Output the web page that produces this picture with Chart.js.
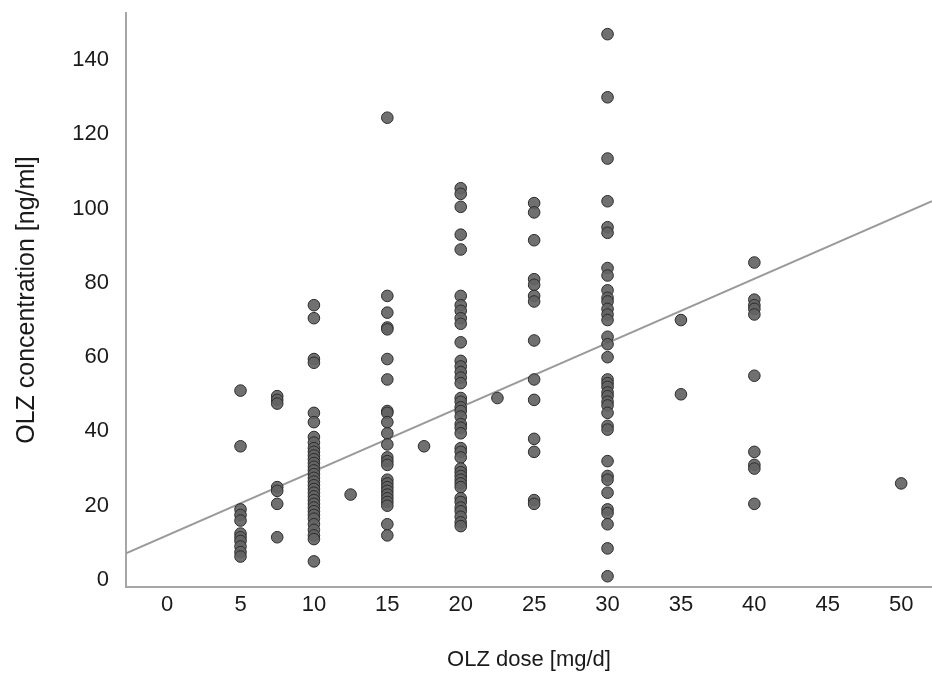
<!DOCTYPE html>
<html lang="en">
<head>
    <meta charset="UTF-8">
    <title>OLZ dose vs concentration</title>
    <script src="https://cdn.jsdelivr.net/npm/chart.js"></script>
    <style>
        html, body { margin: 0; padding: 0; background: #fff; overflow: hidden; }
    </style>
</head>
<body>
    <canvas id="olzChart" width="932" height="680"></canvas>

    <script>
        // OLZ dose levels [mg/d] and measured concentrations [ng/ml] at each dose
        const doseLevels = [5, 7.5, 10, 12.5, 15, 17.5, 20, 22.5, 25, 30, 35, 40, 50];

        const concAt5 = [51, 36, 19, 17.5, 16, 12.5, 11.5, 10.5, 9, 7.5, 6.3];
        const concAt7_5 = [49.5, 48.5, 47.5, 25, 24, 20.5, 11.5];
        const concAt10 = [74, 70.5, 59.5, 58.5, 45, 42.5, 38.5, 37, 35.5, 34.5, 33.5, 32.5, 31.5, 30.5,
            29.5, 28.5, 27.5, 26.5, 25.5, 24.5, 23.5, 22.5, 21.5, 20.5, 19.5, 18.5, 17.5, 16.5, 15, 13.5,
            12, 11, 5];
        const concAt12_5 = [23];
        const concAt15 = [124.5, 76.5, 72, 68, 67.5, 59.5, 54, 45.5, 45, 42.5, 39.5, 36.5, 33, 32, 31,
            27, 26, 25, 24, 23, 22, 21, 20, 15, 12];
        const concAt17_5 = [36];
        const concAt20 = [105.5, 104, 100.5, 93, 89, 76.5, 74, 72.5, 70.5, 69, 64, 59, 57.5, 56, 54.5,
            53, 49, 48, 46.5, 45.5, 44, 42, 41, 39.5, 35.5, 34.5, 33, 30, 29, 28, 27, 26, 25, 22, 21,
            19.5, 18.5, 17, 15.5, 14.5];
        const concAt22_5 = [49];
        const concAt25 = [101.5, 99, 91.5, 81, 79.5, 76.5, 75, 64.5, 54, 48.5, 38, 34.5, 21.5, 20.5];
        const concAt30 = [147, 130, 113.5, 102, 95, 93.5, 84, 82, 78, 76, 75, 73, 71.5, 70, 65.5, 63.5,
            60, 54, 53, 52, 50.5, 49.5, 48, 47, 45, 41.5, 40.5, 32, 28, 27, 23.5, 19, 18, 15, 8.5, 1];
        const concAt35 = [70, 50];
        const concAt40 = [85.5, 75.5, 74, 73, 71.5, 55, 34.5, 31, 30, 20.5];
        const concAt50 = [26];

        const concByDose = [concAt5, concAt7_5, concAt10, concAt12_5, concAt15, concAt17_5, concAt20,
            concAt22_5, concAt25, concAt30, concAt35, concAt40, concAt50];

        // fitted regression line
        const fitIntercept = 12.0;
        const fitSlope = 1.728;

        // axes
        const xTicks = [0, 5, 10, 15, 20, 25, 30, 35, 40, 45, 50];
        const yTicks = [0, 20, 40, 60, 80, 100, 120, 140];
        const xRange = [-2.8, 52.1];
        const yRange = [-1.9, 152.7];

        const points = [];
        doseLevels.forEach((dose, i) => {
            concByDose[i].forEach(c => points.push({ x: dose, y: c }));
        });

        const fitPoints = xRange.map(x => ({ x: x, y: fitIntercept + fitSlope * x }));

        const fontFamily = "'Liberation Sans', Arial, sans-serif";
        const axisColor = "#a6a6a6";
        const textColor = "#1a1a1a";

        // keep the plot area exactly where the figure has it
        function noPad(s) {
            s.paddingTop = 0; s.paddingBottom = 0; s.paddingLeft = 0; s.paddingRight = 0;
        }

        new Chart(document.getElementById("olzChart"), {
            type: "scatter",
            data: {
                datasets: [
                    {
                        label: "patients",
                        data: points,
                        backgroundColor: "rgba(100, 100, 100, 0.92)",
                        borderColor: "#2b2b2b",
                        borderWidth: 1,
                        pointRadius: 5.8,
                        pointHoverRadius: 5.8,
                        order: 1
                    },
                    {
                        type: "line",
                        label: "fit",
                        data: fitPoints,
                        borderColor: "#9a9a9a",
                        borderWidth: 2,
                        pointRadius: 0,
                        fill: false,
                        order: 2
                    }
                ]
            },
            options: {
                responsive: false,
                animation: false,
                layout: { autoPadding: false, padding: { top: 13, right: 0, left: 0, bottom: 0 } },
                plugins: { legend: { display: false }, tooltip: { enabled: false } },
                scales: {
                    x: {
                        type: "linear",
                        min: xRange[0],
                        max: xRange[1],
                        afterBuildTicks: s => { s.ticks = xTicks.map(v => ({ value: v })); },
                        afterFit: s => { s.height = 93; noPad(s); },
                        grid: { display: false },
                        border: { display: true, color: axisColor, width: 2 },
                        ticks: { color: textColor, padding: -3, font: { family: fontFamily, size: 22 } },
                        title: {
                            display: true,
                            text: "OLZ dose [mg/d]",
                            color: textColor,
                            font: { family: fontFamily, size: 22 },
                            padding: { top: 0, bottom: 7 }
                        }
                    },
                    y: {
                        type: "linear",
                        min: yRange[0],
                        max: yRange[1],
                        afterBuildTicks: s => { s.ticks = yTicks.map(v => ({ value: v })); },
                        afterFit: s => { s.width = 126; noPad(s); },
                        grid: { display: false },
                        border: { display: true, color: axisColor, width: 2 },
                        ticks: { color: textColor, padding: 9, font: { family: fontFamily, size: 22 } },
                        title: {
                            display: true,
                            text: "OLZ concentration [ng/ml]",
                            color: textColor,
                            font: { family: fontFamily, size: 25 },
                            padding: { top: 12, bottom: 0 }
                        }
                    }
                }
            }
        });
    </script>
</body>
</html>
